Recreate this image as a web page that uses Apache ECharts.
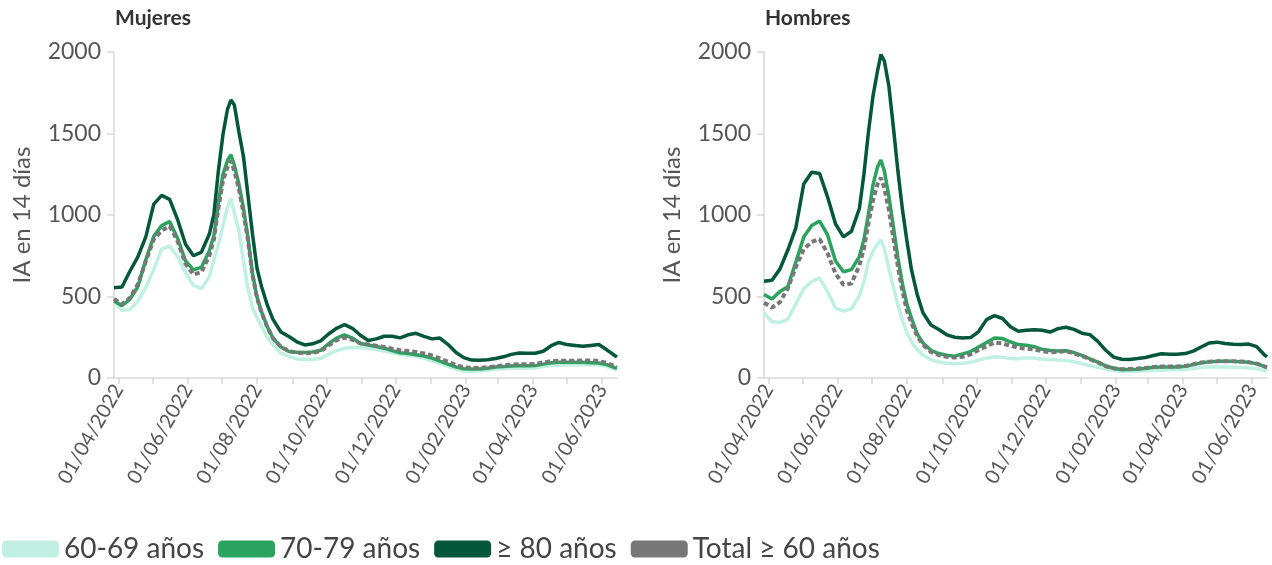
<!DOCTYPE html>
<html>
<head>
<meta charset="utf-8">
<script src="https://cdn.jsdelivr.net/npm/echarts@6/dist/echarts.min.js"></script>
<style>
html,body{margin:0;padding:0;background:#fff;}
#c{width:1272px;height:565px;}
</style>
</head>
<body>
<div id="c"></div>
<script>
// Dates (x categories)
const dates = ['2022-03-28','2022-04-04','2022-04-11','2022-04-18','2022-04-25','2022-05-02','2022-05-09','2022-05-16','2022-05-23','2022-05-30','2022-06-06','2022-06-13','2022-06-20','2022-06-24','2022-06-28','2022-07-02','2022-07-06','2022-07-09','2022-07-12','2022-07-16','2022-07-20','2022-07-24','2022-07-28','2022-08-01','2022-08-05','2022-08-10','2022-08-15','2022-08-22','2022-08-29','2022-09-05','2022-09-12','2022-09-19','2022-09-26','2022-10-03','2022-10-10','2022-10-17','2022-10-24','2022-10-31','2022-11-07','2022-11-14','2022-11-21','2022-11-28','2022-12-05','2022-12-12','2022-12-19','2022-12-26','2023-01-02','2023-01-09','2023-01-16','2023-01-23','2023-01-30','2023-02-06','2023-02-13','2023-02-20','2023-02-27','2023-03-06','2023-03-13','2023-03-20','2023-03-27','2023-04-03','2023-04-10','2023-04-17','2023-04-24','2023-05-01','2023-05-08','2023-05-15','2023-05-22','2023-05-29','2023-06-05','2023-06-12','2023-06-14'];

// Mujeres
const mujeres60 = [470,415,420,470,555,665,790,809,745,645,568,548,622,725,820,935,1050,1100,1010,905,720,550,430,371,316,250,205,152,132,117,113,115,120,145,168,182,188,185,182,175,165,155,145,140,135,122,105,90,72,55,43,42,43,48,54,57,60,60,60,62,70,77,80,82,82,82,82,80,72,55,50];
const mujeres70 = [472,444,483,560,725,870,935,960,858,718,663,680,780,875,1080,1250,1335,1370,1305,1190,1045,860,640,495,405,315,245,190,163,158,157,160,170,210,245,265,245,212,203,193,183,168,155,150,143,135,122,104,85,68,57,55,55,60,67,70,74,76,75,76,85,93,96,96,96,96,94,92,82,64,60];
const mujeres80 = [553,558,655,743,866,1067,1120,1096,972,820,750,772,883,1006,1275,1495,1650,1705,1675,1510,1360,1120,882,672,560,448,360,282,255,222,203,210,228,270,305,327,305,262,230,240,256,256,246,265,274,255,240,245,207,158,125,110,109,112,120,130,145,153,152,152,164,198,218,205,200,195,200,205,173,138,129];
const mujeresTot = [485,452,492,575,715,850,905,932,840,700,635,650,750,850,1045,1210,1295,1332,1270,1160,1015,845,630,490,400,312,245,192,165,155,152,155,165,200,232,248,235,212,205,198,190,180,170,165,160,150,138,120,100,80,66,62,62,66,72,78,82,84,84,86,95,104,106,106,106,108,108,104,92,72,68];

// Hombres
const hombres60 = [400,345,340,360,455,548,592,612,530,430,410,425,505,588,714,778,820,848,794,668,555,447,350,277,220,174,141,112,98,91,88,90,96,110,122,130,128,120,118,122,122,115,113,110,108,100,88,76,66,55,46,42,41,42,44,46,48,50,51,52,58,65,68,68,68,66,64,62,58,45,42];
const hombres70 = [512,485,530,560,710,865,935,963,878,718,652,665,745,850,1005,1185,1295,1338,1270,1115,925,735,575,450,365,270,215,170,150,140,134,148,162,190,218,245,242,222,205,201,192,176,169,165,167,156,139,118,98,74,60,52,52,54,60,66,68,68,68,72,82,93,99,102,102,102,100,96,88,70,66];
const hombres80 = [594,600,668,785,920,1190,1262,1255,1110,945,866,900,1040,1250,1510,1730,1885,1985,1945,1790,1535,1265,1030,835,660,510,400,325,298,265,250,246,248,285,358,383,365,315,287,293,296,293,282,303,311,298,275,266,225,170,128,115,113,119,126,138,149,146,145,150,165,190,215,220,212,207,205,208,192,140,129];
const hombresTot = [462,432,465,550,680,790,835,852,765,640,572,580,690,795,950,1090,1190,1228,1165,1030,855,680,530,410,335,255,205,160,140,130,125,130,145,172,195,218,212,198,185,180,175,165,158,160,166,150,135,115,96,72,60,54,55,58,62,67,70,70,70,74,84,95,100,102,102,102,101,97,88,70,66];

// Tick positions / labels
const monthTicks = ['2022-04-01','2022-05-01','2022-06-01','2022-07-01','2022-08-01','2022-09-01','2022-10-01','2022-11-01','2022-12-01','2023-01-01','2023-02-01','2023-03-01','2023-04-01','2023-05-01','2023-06-01'];
const labelTicks = ['2022-04-01','2022-06-01','2022-08-01','2022-10-01','2022-12-01','2023-02-01','2023-04-01','2023-06-01'];
const yTicks = [0, 500, 1000, 1500, 2000];

const seriesNames = ['60-69 años', '70-79 años', '\u2265 80 años', 'Total \u2265 60 años'];
const panelTitles = ['Mujeres', 'Hombres'];
const colors = ['#bff0e2', '#2ba25e', '#02573a', '#777777'];

function ts(s) { const p = s.split('-').map(Number); return new Date(p[0], p[1] - 1, p[2]).getTime(); }
function pad(n) { return (n < 10 ? '0' : '') + n; }

const FONT = 'Lato';
const chart = echarts.init(document.getElementById('c'), null, { renderer: 'canvas' });

const gridLefts = [114, 764];
const grids = gridLefts.map(l => ({ left: l, top: 52, width: 503, height: 326 }));

const xAxes = gridLefts.map((l, i) => ({
  type: 'value', gridIndex: i,
  min: ts('2022-03-28'), max: ts('2023-06-14'),
  axisLine: { show: true, lineStyle: { color: '#d9d9d9', width: 1.5 } },
  axisTick: { show: true, length: 6, customValues: monthTicks.map(ts), lineStyle: { color: '#d9d9d9', width: 1.5 } },
  axisLabel: {
    customValues: labelTicks.map(ts), rotate: 60, margin: 8,
    fontFamily: FONT, fontSize: 20, color: '#555',
    formatter: v => { const d = new Date(v); return pad(d.getDate()) + '/' + pad(d.getMonth() + 1) + '/' + d.getFullYear(); }
  },
  splitLine: { show: false }
}));

const yAxes = gridLefts.map((l, i) => ({
  type: 'value', gridIndex: i, min: yTicks[0], max: yTicks[yTicks.length - 1], interval: 500,
  name: 'IA en 14 días', nameLocation: 'middle', nameGap: 80,
  nameTextStyle: { fontFamily: FONT, fontSize: 24, color: '#555' },
  axisLine: { show: true, lineStyle: { color: '#d9d9d9', width: 1.5 } },
  axisTick: { show: true, length: 7, lineStyle: { color: '#d9d9d9', width: 1.5 } },
  axisLabel: { fontFamily: FONT, fontSize: 23, color: '#555', margin: 13, formatter: v => String(v) },
  splitLine: { show: false }
}));

const panels = [
  [mujeres60, mujeres70, mujeres80, mujeresTot],
  [hombres60, hombres70, hombres80, hombresTot]
];

const series = [];
panels.forEach((arrs, p) => {
  arrs.forEach((arr, k) => {
    series.push({
      name: seriesNames[k], type: 'line', xAxisIndex: p, yAxisIndex: p,
      data: dates.map((d, i) => [ts(d), arr[i]]),
      showSymbol: false, symbol: 'none', smooth: false,
      color: colors[k],
      itemStyle: { color: colors[k] },
      lineStyle: k === 3 ? { color: colors[k], width: 4, type: [5, 3], cap: 'butt' } : { color: colors[k], width: 3.5 },
      z: 2 + k, animation: false
    });
  });
});

chart.setOption({
  animation: false,
  textStyle: { fontFamily: FONT },
  title: panelTitles.map((t, i) => ({
    text: t, left: gridLefts[i] + 1, top: 8, padding: 0,
    textStyle: { fontFamily: FONT, fontSize: 21, fontWeight: 'bold', color: '#333' }
  })),
  grid: grids,
  xAxis: xAxes,
  yAxis: yAxes,
  legend: {
    data: seriesNames.map((n, k) => ({ name: n, icon: 'roundRect', itemStyle: { color: colors[k], borderWidth: 0 } })),
    left: -3, top: 530, itemWidth: 57, itemHeight: 17, itemGap: 14,
    textStyle: { fontFamily: FONT, fontSize: 28, color: '#444' },
    selectedMode: false
  },
  series: series
});
</script>
</body>
</html>
